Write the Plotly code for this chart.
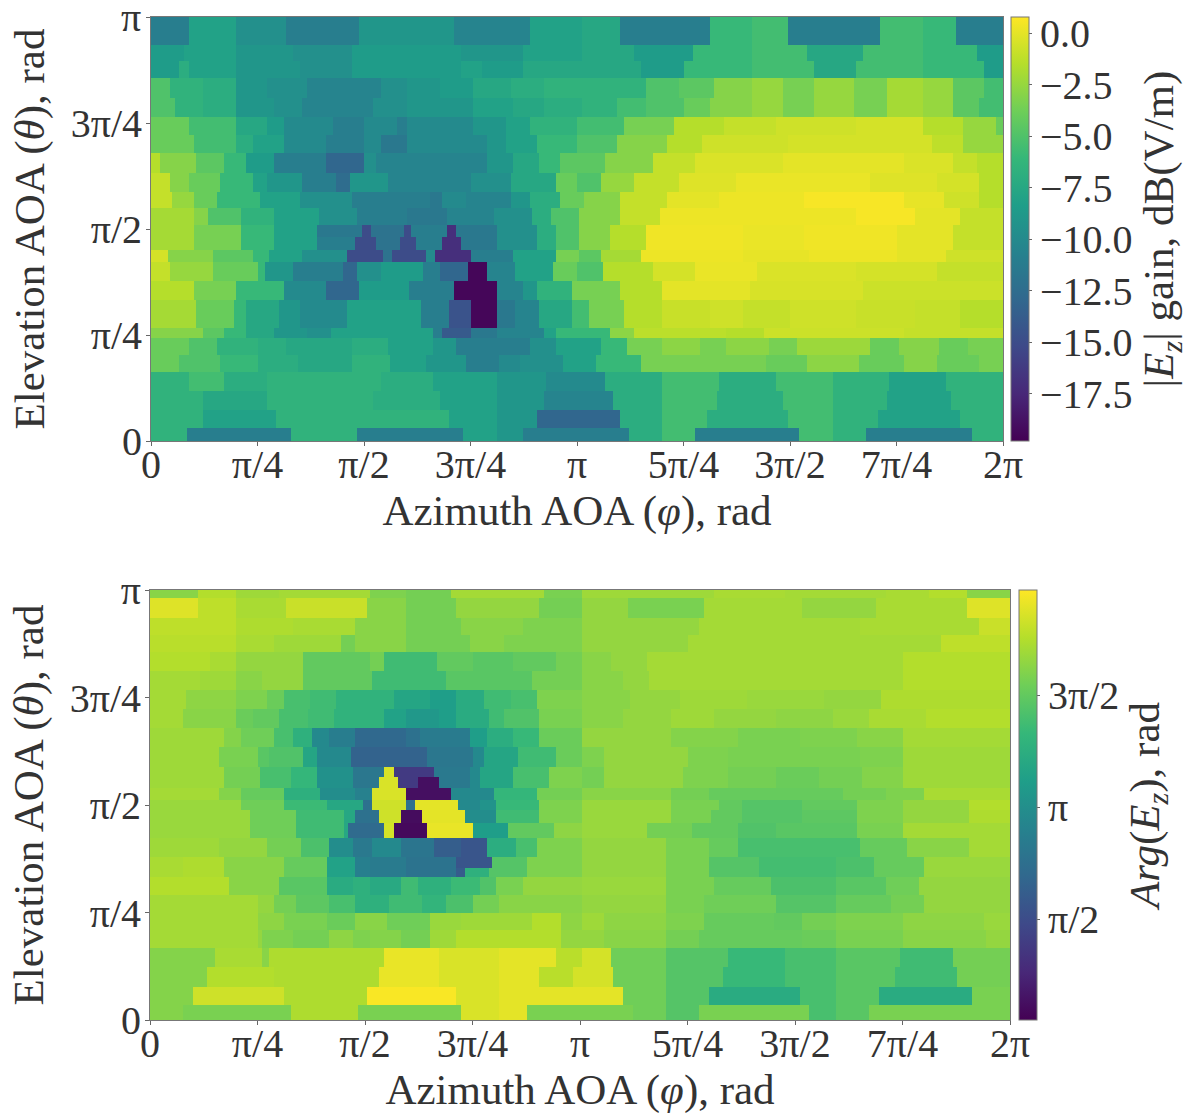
import math
import plotly.graph_objects as go

# Azimuth run ends in degrees, each row going from the top of the panel (theta = pi) down.
GAIN_THETA_EDGES = [180, 168.1, 161.3, 154.1, 145.6, 137.5, 129.9, 122.3, 113.8, 105.7, 98.9, 91.7,
                    86.6, 81.1, 76, 67.9, 59.9, 48.0, 43.7, 36.5, 29.3, 21.2, 13.2, 5.5, 0]
GAIN_RUNS = [
 [(16,-11),(36,-8),(57,-9.5),(88,-11),(128,-9),(160,-10.5),(182,-8),(198,-7.5),(236,-11),(254,-6),(269,-5.5),(308,-11),(326,-5.5),(340,-6),(360,-11)],
 [(14,-8.5),(36,-8),(60,-9),(85,-9.5),(131,-8.5),(157,-9),(182,-8),(204,-7.5),(229,-8.5),(254,-6),(277,-5.5),(301,-7.5),(326,-5.5),(349,-6),(360,-8.5)],
 [(12,-8.5),(16,-7),(36,-8),(63,-9),(85,-9.5),(131,-8.5),(140,-8),(157,-8.5),(182,-7.5),(207,-7.5),(225,-8.5),(254,-6),(280,-5.5),(298,-7.5),(326,-5.5),(352,-6),(360,-8.5)],
 [(8,-5),(22,-6.5),(36,-7),(49,-9),(66,-9.5),(97,-10.5),(108,-9.5),(122,-9),(136,-8.5),(152,-7.5),(166,-7),(182,-6.5),(195,-6.5),(209,-6.5),(223,-5),(238,-4.5),(254,-3),(267,-2.5),(280,-3.5),(297,-2.5),(311,-3.5),(326,-2),(339,-2.5),(352,-4.5),(360,-5.5)],
 [(10,-5),(22,-6.5),(36,-7),(52,-9),(64,-9.5),(94,-10.5),(108,-9.5),(136,-9),(153,-8),(166,-7.5),(182,-7),(197,-6.5),(209,-5.5),(225,-5),(236,-4),(254,-3),(267,-2.5),(280,-3.5),(297,-2.5),(311,-3.5),(326,-2),(339,-2.5),(350,-4.5),(360,-5.5)],
 [(16,-4),(36,-5.5),(49,-7.5),(56,-8.5),(77,-10),(90,-11),(104,-10),(108,-11),(136,-10),(150,-9),(160,-8),(180,-6.5),(200,-5.5),(221,-3.5),(242,-1.5),(264,-1),(298,-0.7),(326,-0.5),(343,-1.5),(357,-2.5),(360,-4)],
 [(18,-4),(36,-5.5),(43,-7),(56,-8),(74,-10),(90,-11),(97,-10),(108,-11.5),(142,-10),(150,-9),(163,-8),(180,-6),(197,-5),(218,-3),(233,-1.5),(269,-0.7),(292,-0.5),(330,-0.5),(343,-1.2),(360,-2.5)],
 [(4,-1.5),(19,-3),(31,-4.5),(40,-6),(52,-8.5),(74,-11),(90,-13),(95,-9.5),(116,-10.5),(142,-10.5),(153,-9),(164,-7.5),(173,-6),(181,-4.5),(192,-4.5),(212,-3),(230,-1),(267,-0.3),(318,0),(339,-0.3),(349,-1),(360,-1.5)],
 [(8,-1),(16,-3),(29,-4),(43,-6),(49,-8),(64,-9),(78,-11),(84,-12.5),(100,-9),(115,-10.5),(135,-10.5),(152,-9.5),(171,-7.5),(180,-4),(190,-5),(204,-2.5),(223,-1),(247,-0.2),(304,0.2),(332,-0.2),(350,-0.5),(360,-1.5)],
 [(9,-1),(18,-2.5),(28,-4),(46,-6),(63,-8),(85,-9.5),(118,-11),(123,-11.5),(133,-10),(152,-10.5),(160,-9),(173,-7),(183,-4),(198,-3),(218,-1),(240,0),(276,0.3),(318,0.6),(335,0.1),(350,-0.7),(360,-1.5)],
 [(18,-2),(24,-3),(38,-5),(52,-6.5),(71,-8),(87,-9.5),(108,-11),(125,-11.5),(145,-10.5),(161,-9.5),(169,-7),(181,-5),(198,-3),(215,-1),(298,0.3),(323,0.6),(342,0),(360,-1)],
 [(18,-2),(38,-3.5),(52,-6),(70,-8),(89,-11.5),(93,-15),(107,-12),(110,-15),(125,-11),(129,-17),(146,-11.5),(163,-9.5),(171,-7),(181,-5),(194,-3),(209,-1.5),(250,0.4),(276,0.2),(315,0.4),(339,0),(360,-1)],
 [(18,-2),(38,-3.5),(52,-6),(70,-8),(86,-11),(95,-15),(105,-12),(112,-15),(123,-11),(131,-17),(146,-11.5),(163,-9.5),(171,-7),(181,-5),(194,-3),(209,-1.5),(250,0.4),(276,0.2),(315,0.4),(339,0),(360,-1)],
 [(7,-0.5),(26,-3),(43,-4.5),(50,-6),(64,-8),(83,-9.5),(98,-15),(102,-12),(116,-15),(120,-10),(135,-17),(153,-11),(171,-8),(181,-3.5),(190,-4.5),(207,-2),(250,0.3),(278,0.1),(315,0.3),(336,0),(360,-0.7)],
 [(8,-1),(26,-2.5),(45,-4),(48,-6),(60,-9),(81,-11),(87,-13),(97,-9.5),(115,-8.5),(122,-11),(134,-13),(142,-19.5),(154,-10.5),(170,-8),(180,-4),(191,-5),(212,-1.5),(230,-0.5),(256,0.2),(298,-0.3),(332,-0.5),(360,-1)],
 [(18,-1.5),(36,-3.5),(56,-6),(74,-10),(88,-13),(109,-8.5),(128,-11),(146,-19.5),(157,-10.5),(163,-9),(178,-6.5),(198,-3.5),(216,-1.5),(253,0),(301,-0.4),(360,-0.8)],
 [(19,-2),(35,-4),(40,-6),(54,-7.5),(63,-9),(83,-10),(114,-8),(126,-11),(135,-14.5),(146,-19.5),(154,-11.5),(164,-10.5),(178,-7.5),(185,-5.5),(200,-3.5),(216,-1.5),(236,-0.9),(250,-0.7),(270,-1),(298,-0.7),(323,-0.9),(342,-1),(360,-1.5)],
 [(22,-3),(31,-4.5),(40,-6),(52,-7.5),(66,-9),(76,-9.5),(119,-8),(123,-11),(135,-14),(146,-11.5),(166,-10.5),(171,-8),(180,-6),(194,-6),(204,-2.8),(243,-1.3),(259,-1.5),(318,-0.8),(360,-1)],
 [(16,-4),(28,-5),(45,-6.5),(57,-7),(85,-7.5),(100,-7),(119,-8),(129,-9),(146,-11),(160,-11),(171,-9.5),(190,-8),(201,-6),(216,-3.5),(232,-2.8),(243,-3.5),(261,-2.8),(273,-3.5),(304,-2.3),(316,-4),(333,-3),(345,-4),(360,-3.5)],
 [(12,-4),(29,-5),(45,-6),(62,-7),(85,-7.5),(101,-6.5),(116,-8),(133,-9),(147,-11),(156,-10),(174,-9.5),(188,-8),(207,-6),(260,-3.5),(277,-4),(299,-2.8),(318,-4),(332,-3),(350,-4),(360,-3.5)],
 [(16,-6.5),(31,-5.5),(49,-7),(97,-6.5),(119,-7),(146,-8),(167,-9),(192,-10),(216,-7),(240,-5.5),(264,-7),(288,-5.5),(312,-6.5),(336,-8),(360,-6.5)],
 [(22,-6.5),(49,-7.5),(94,-6.5),(122,-7),(146,-8),(166,-9),(195,-10.5),(216,-7),(239,-5.5),(267,-7),(288,-5.5),(311,-6.5),(338,-8),(360,-6.5)],
 [(22,-6.5),(53,-8),(126,-6.5),(146,-8),(163,-9),(198,-13),(216,-7),(235,-5.5),(269,-7),(288,-5.5),(307,-6.5),(342,-8),(360,-6.5)],
 [(15,-6.5),(59,-11),(87,-6.5),(132,-11),(146,-8),(157,-9),(202,-11),(216,-7),(230,-5.5),(274,-11),(288,-5.5),(302,-6.5),(347,-11),(360,-6.5)],
]

PHASE_THETA_EDGES = [180, 176.7, 168.3, 161.2, 154, 146.1, 138.1, 130.2, 122.2, 114.3, 105.9, 101.7, 97.1,
                     92.1, 87.9, 82.5, 76.2, 68.2, 63.6, 59.9, 52.3, 44.8, 37.7, 30.1, 22.2, 13.8, 6.3, 0]
PHASE_RUNS = [
 [(20,5.1),(36,5.5),(54,5.3),(92,5.35),(107,5.0),(126,4.9),(165,5.35),(181,4.95),(236,5.3),(266,5.4),(308,5.35),(326,5.4),(342,5.5),(360,5.1)],
 [(20,5.9),(36,5.6),(57,5.4),(91,5.7),(107,5.1),(128,4.9),(163,5.2),(181,4.9),(200,5.2),(232,4.95),(273,5.35),(304,5.2),(342,5.4),(360,5.9)],
 [(36,5.6),(60,5.45),(86,5.4),(107,5.1),(130,4.9),(156,5.1),(181,5.0),(230,5.2),(297,5.35),(347,5.4),(360,5.7)],
 [(36,5.55),(52,5.4),(80,5.3),(86,4.9),(107,5.1),(134,4.9),(148,5.1),(181,5.0),(225,5.2),(331,5.35),(360,5.6)],
 [(25,5.5),(36,5.4),(64,5.2),(92,4.7),(98,4.9),(120,4.3),(135,4.7),(152,4.6),(170,4.7),(181,4.9),(193,5.1),(208,5.2),(315,5.35),(360,5.5)],
 [(21,5.35),(36,5.3),(47,5.1),(64,5.2),(93,4.7),(124,4.3),(135,4.6),(160,4.6),(181,4.9),(198,5.1),(209,5.2),(315,5.35),(360,5.5)],
 [(15,5.35),(36,5.15),(49,5.0),(56,4.8),(67,4.4),(78,4.3),(102,4.05),(117,3.7),(128,3.5),(140,3.85),(151,4.3),(162,4.4),(181,5.0),(201,5.1),(222,5.2),(250,5.3),(282,5.25),(306,5.2),(360,5.45)],
 [(14,5.35),(36,5.1),(43,4.8),(54,4.7),(66,4.4),(77,4.3),(98,4.05),(107,3.6),(121,3.35),(128,3.5),(142,3.85),(148,4.3),(163,4.5),(181,4.95),(198,5.1),(218,5.2),(236,5.3),(262,5.2),(286,5.15),(301,5.25),(325,5.4),(360,5.5)],
 [(31,5.3),(38,5.05),(52,4.85),(60,4.4),(68,4.0),(75,3.0),(86,2.7),(107,2.2),(113,2.4),(134,2.65),(141,3.5),(152,3.9),(163,4.2),(181,4.8),(218,5.2),(246,5.05),(272,4.95),(296,5.0),(315,5.1),(360,5.35)],
 [(29,5.3),(45,4.95),(50,4.6),(64,4.5),(70,3.7),(84,3.0),(116,2.05),(135,2.55),(140,3.0),(154,3.7),(170,4.3),(181,4.8),(190,5.0),(225,5.2),(242,5.0),(297,4.95),(315,5.0),(360,5.3)],
 [(31,5.3),(46,4.9),(59,4.4),(70,4.15),(85,3.2),(98,2.55),(102,5.85),(119,1.2),(134,2.6),(138,3.0),(152,3.7),(167,4.4),(181,5.0),(190,4.9),(223,5.2),(242,5.0),(262,4.9),(280,4.8),(298,4.9),(315,5.05),(360,5.3)],
 [(31,5.3),(46,4.9),(59,4.4),(70,4.15),(85,3.2),(96,2.55),(104,5.85),(112,1.2),(121,0.4),(134,2.6),(138,3.0),(152,3.7),(167,4.4),(181,5.0),(190,4.9),(223,5.2),(242,5.0),(262,4.9),(280,4.8),(298,4.9),(315,5.05),(360,5.3)],
 [(29,5.35),(38,5.05),(56,4.75),(71,3.95),(86,3.1),(93,2.8),(107,5.85),(126,0.4),(144,3.0),(162,4.15),(181,4.9),(218,5.1),(234,4.9),(273,4.75),(290,4.75),(308,4.9),(324,5.0),(360,5.4)],
 [(38,5.25),(56,4.85),(74,4.25),(89,3.75),(93,2.4),(107,5.75),(111,2.4),(129,5.95),(138,3.0),(145,3.25),(163,4.2),(181,5.0),(218,5.25),(238,4.95),(248,4.7),(273,4.55),(296,4.7),(315,5.0),(343,5.2),(360,5.5)],
 [(42,5.25),(61,4.85),(81,4.3),(86,3.75),(96,2.4),(105,5.75),(114,0.35),(132,5.95),(145,3.1),(163,4.3),(181,5.0),(218,5.25),(235,4.95),(248,4.7),(273,4.55),(296,4.65),(315,5.0),(343,5.2),(360,5.45)],
 [(42,5.25),(61,4.85),(81,4.3),(83,3.75),(98,2.25),(102,5.8),(116,0.3),(135,6.0),(150,3.5),(169,4.7),(181,5.15),(208,5.25),(227,4.9),(246,4.7),(262,4.5),(296,4.6),(315,4.95),(360,5.35)],
 [(29,5.3),(49,5.2),(63,4.9),(75,4.45),(85,3.1),(93,2.6),(105,3.0),(119,2.5),(130,1.95),(141,1.75),(153,3.9),(162,4.4),(181,5.0),(216,5.2),(234,4.95),(246,4.75),(297,4.4),(317,4.75),(343,5.1),(360,5.35)],
 [(14,5.4),(31,5.45),(56,5.1),(74,4.75),(86,3.6),(92,2.75),(107,2.65),(128,2.45),(143,1.75),(158,4.55),(181,5.0),(216,5.2),(234,4.95),(255,4.55),(287,4.35),(303,4.45),(324,4.75),(360,5.25)],
 [(14,5.4),(31,5.45),(56,5.1),(74,4.75),(86,3.6),(92,2.75),(107,2.65),(128,2.45),(132,1.9),(142,4.0),(158,4.55),(181,5.0),(216,5.2),(234,4.95),(255,4.55),(287,4.35),(303,4.45),(324,4.75),(360,5.25)],
 [(33,5.5),(54,5.1),(74,4.6),(85,3.85),(92,4.0),(105,3.8),(112,4.3),(126,4.0),(138,4.25),(145,4.5),(156,4.95),(181,5.2),(216,5.25),(236,4.95),(260,4.75),(287,4.45),(308,4.6),(322,4.85),(342,5.2),(360,5.2)],
 [(45,5.35),(52,5.2),(61,4.9),(75,4.65),(86,4.4),(100,4.0),(114,4.3),(124,4.1),(135,4.45),(146,4.9),(167,5.1),(181,5.1),(216,5.2),(232,4.95),(262,4.85),(287,4.55),(310,4.75),(324,4.9),(360,5.2)],
 [(45,5.35),(56,5.15),(74,4.95),(86,4.8),(99,5.1),(117,4.85),(130,5.25),(146,5.3),(160,5.3),(172,5.5),(181,5.15),(190,5.3),(216,5.15),(232,5.0),(261,4.75),(273,4.7),(287,4.9),(315,5.0),(349,5.15),(360,5.25)],
 [(45,5.35),(47,5.2),(60,5.0),(75,4.9),(85,5.15),(92,5.0),(105,5.05),(117,4.9),(128,5.3),(146,5.5),(165,5.5),(172,5.5),(181,5.2),(190,5.2),(216,5.1),(230,4.9),(262,4.75),(273,4.75),(287,4.8),(315,4.95),(350,5.1),(360,5.2)],
 [(27,5.05),(47,5.4),(50,5.1),(98,5.45),(121,6.0),(146,5.85),(170,5.95),(181,5.55),(193,5.8),(216,4.85),(242,4.55),(266,4.2),(287,4.4),(314,4.6),(336,4.3),(360,4.9)],
 [(24,5.05),(52,5.5),(96,5.45),(121,6.0),(146,5.85),(163,5.95),(177,5.55),(194,5.8),(216,4.85),(240,4.55),(266,4.2),(287,4.4),(312,4.6),(338,4.3),(360,4.9)],
 [(18,5.05),(56,5.75),(91,5.45),(128,6.15),(146,5.85),(198,5.95),(216,4.85),(234,4.55),(272,3.85),(287,4.4),(305,4.6),(344,3.85),(360,4.95)],
 [(14,5.05),(59,4.95),(87,5.45),(130,4.95),(146,5.85),(158,5.95),(202,4.95),(216,4.85),(230,4.55),(276,4.95),(287,4.4),(301,4.6),(360,4.95)],
]

AZIMUTH_TICKS = [0, math.pi/4, math.pi/2, 3*math.pi/4, math.pi, 5*math.pi/4, 3*math.pi/2, 7*math.pi/4, 2*math.pi]
AZIMUTH_LABELS = ["0", "π/4", "π/2", "3π/4", "π", "5π/4", "3π/2", "7π/4", "2π"]
ELEVATION_TICKS = [0, math.pi/4, math.pi/2, 3*math.pi/4, math.pi]
ELEVATION_LABELS = ["0", "π/4", "π/2", "3π/4", "π"]
ELEVATION_LABELS_TOP = ["0", "π/4", "π/2", "3π/4", ""]   # its π is an annotation: the axis would drop it at the page edge
GAIN_TICKS = [0, -2.5, -5, -7.5, -10, -12.5, -15, -17.5]
GAIN_LABELS = ["0.0", "−2.5", "−5.0", "−7.5", "−10.0", "−12.5", "−15.0", "−17.5"]
PHASE_TICKS = [math.pi/2, math.pi, 3*math.pi/2]
PHASE_LABELS = ["π/2", "π", "3π/2"]

FONT = "Liberation Serif"
INK = "#333333"
TICK_SIZE = 40
TITLE_SIZE = 43
W, H = 1189, 1116


def expand(runs):
    row, start = [], 0
    for end, value in runs:
        row += [value] * (end - start)
        start = end
    return row


def px_x(p):
    return p / W


def px_y(p):
    return 1 - p / H


phi_edges = [math.radians(d) for d in range(361)]


def panel(runs, edges, zmin, zmax, cb, xa, ya):
    return go.Heatmap(
        x=phi_edges,
        y=[math.radians(e) for e in reversed(edges)],
        z=[expand(r) for r in reversed(runs)],
        colorscale="Viridis", zmin=zmin, zmax=zmax, colorbar=cb,
        xaxis=xa, yaxis=ya, hoverinfo="skip",
    )


def cbar(x0, y0, y1, ticks, labels, title):
    return dict(
        x=px_x(x0), xanchor="left", xpad=0, ypad=0,
        y=px_y(y1), yanchor="bottom", lenmode="fraction", len=(y1 - y0) / H,
        thickness=18, thicknessmode="pixels",
        tickmode="array", tickvals=ticks, ticktext=labels, ticks="outside", ticklen=3,
        tickcolor="#666666", tickfont=dict(family=FONT, size=TICK_SIZE, color=INK),
        outlinecolor="#777777", outlinewidth=1,
        title=dict(text=title, side="right", font=dict(family=FONT, size=TITLE_SIZE, color=INK)),
    )


fig = go.Figure()
fig.add_trace(panel(GAIN_RUNS, GAIN_THETA_EDGES, -19.8, 0.8,
                    cbar(1011, 17, 441, GAIN_TICKS, GAIN_LABELS,
                         "|<i>E<sub>z</sub></i>| gain, dB(V/m)"), "x", "y"))
fig.add_trace(panel(PHASE_RUNS, PHASE_THETA_EDGES, 0.155, 6.185,
                    cbar(1019, 590, 1020, PHASE_TICKS, PHASE_LABELS,
                         "<i>Arg</i>(<i>E<sub>z</sub></i>), rad"), "x2", "y2"))


def axis(domain, vals, labels, title, standoff, anchor, label_shift):
    return dict(
        domain=domain, range=[vals[0], vals[-1]], tickmode="array", tickvals=vals, ticktext=labels,
        ticks="outside", ticklen=4, tickcolor="#666666", showline=True, linecolor="#777777", linewidth=1,
        mirror=True, showgrid=False, zeroline=False, anchor=anchor, automargin=False,
        ticklabelstandoff=label_shift,
        tickfont=dict(family=FONT, size=TICK_SIZE, color=INK),
        title=dict(text=title, standoff=standoff, font=dict(family=FONT, size=TITLE_SIZE, color=INK)),
    )


AZ = "Azimuth AOA (<i>φ</i>), rad"
EL = "Elevation AOA (<i>θ</i>), rad"
fig.update_layout(
    width=W, height=H,
    margin=dict(l=0, r=0, t=0, b=0, autoexpand=False), paper_bgcolor="white", plot_bgcolor="white",
    xaxis=axis([px_x(151), px_x(1003)], AZIMUTH_TICKS, AZIMUTH_LABELS, AZ, 5, "y", -16),
    yaxis=axis([px_y(441), px_y(17)], ELEVATION_TICKS, ELEVATION_LABELS_TOP, EL, 12, "x", -4),
    xaxis2=axis([px_x(150), px_x(1010)], AZIMUTH_TICKS, AZIMUTH_LABELS, AZ, 5, "y2", -16),
    yaxis2=axis([px_y(1020), px_y(590)], ELEVATION_TICKS, ELEVATION_LABELS, EL, 12, "x2", -4),
    annotations=[dict(text="π", xref="x domain", yref="paper", x=0, y=px_y(18), xanchor="right", yanchor="middle",
                      xshift=-8, showarrow=False, font=dict(family=FONT, size=TICK_SIZE, color=INK))],
)
fig.write_html("out.html", config={"displayModeBar": False},
               post_script="document.body.style.margin = '0';")
